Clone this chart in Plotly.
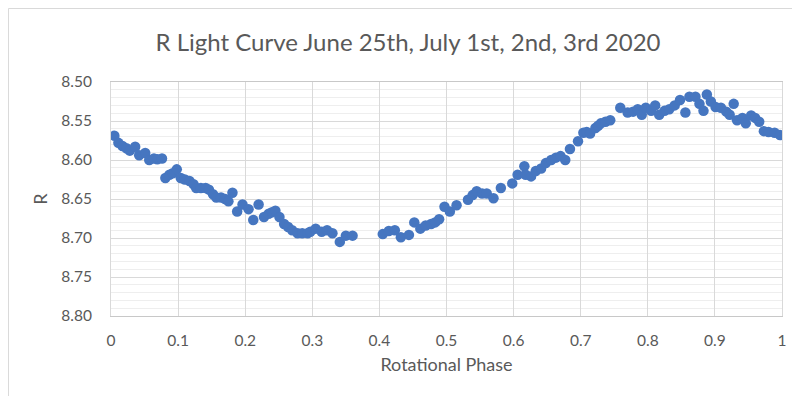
import plotly.graph_objects as go

# Rotational phase and R magnitude
phase = [
    0.005, 0.011, 0.017, 0.023, 0.028, 0.036, 0.042, 0.051, 0.057, 0.064,
    0.069, 0.076, 0.081, 0.087, 0.092, 0.098, 0.104, 0.110, 0.117, 0.123,
    0.127, 0.134, 0.141, 0.146, 0.152, 0.157, 0.164, 0.170, 0.175, 0.181,
    0.188, 0.196, 0.205, 0.212, 0.220, 0.228, 0.235, 0.240, 0.245, 0.251,
    0.258, 0.264, 0.270, 0.278, 0.285, 0.293, 0.297, 0.305, 0.314, 0.322,
    0.330, 0.341, 0.350, 0.360,
    0.405, 0.414, 0.423, 0.432, 0.444, 0.452, 0.461, 0.469, 0.477, 0.483,
    0.489, 0.497, 0.505, 0.515, 0.532, 0.539, 0.545, 0.553, 0.560, 0.570,
    0.581, 0.598, 0.606, 0.616, 0.618, 0.626, 0.633, 0.641, 0.648, 0.656,
    0.663, 0.670, 0.677, 0.684, 0.696, 0.704, 0.709, 0.714, 0.722, 0.726,
    0.730, 0.737, 0.744, 0.759, 0.770, 0.778, 0.785, 0.791, 0.797, 0.805,
    0.811, 0.817, 0.825, 0.832, 0.840, 0.848, 0.856, 0.862, 0.871, 0.877,
    0.883, 0.888, 0.894, 0.901, 0.909, 0.917, 0.922, 0.928, 0.933, 0.941,
    0.946, 0.954, 0.960, 0.966, 0.973, 0.980, 0.989, 0.997,
]
r_mag = [
    8.569, 8.578, 8.582, 8.585, 8.588, 8.583, 8.594, 8.591, 8.600, 8.598,
    8.599, 8.598, 8.623, 8.619, 8.617, 8.612, 8.623, 8.625, 8.627, 8.631,
    8.636, 8.636, 8.636, 8.638, 8.644, 8.648, 8.648, 8.650, 8.653, 8.642,
    8.666, 8.657, 8.663, 8.677, 8.657, 8.673, 8.669, 8.667, 8.665, 8.673,
    8.682, 8.686, 8.690, 8.694, 8.694, 8.694, 8.692, 8.688, 8.692, 8.690,
    8.694, 8.705, 8.697, 8.697,
    8.695, 8.691, 8.690, 8.699, 8.696, 8.680, 8.688, 8.684, 8.682, 8.680,
    8.676, 8.660, 8.666, 8.658, 8.651, 8.645, 8.640, 8.643, 8.643, 8.649,
    8.636, 8.630, 8.619, 8.608, 8.619, 8.621, 8.614, 8.611, 8.604, 8.600,
    8.597, 8.595, 8.600, 8.586, 8.576, 8.565, 8.564, 8.566, 8.559, 8.556,
    8.553, 8.551, 8.549, 8.533, 8.539, 8.538, 8.535, 8.542, 8.533, 8.537,
    8.530, 8.542, 8.537, 8.535, 8.530, 8.523, 8.539, 8.519, 8.519, 8.528,
    8.537, 8.516, 8.525, 8.532, 8.533, 8.538, 8.542, 8.528, 8.549, 8.546,
    8.553, 8.543, 8.546, 8.551, 8.563, 8.564, 8.565, 8.568,
]

title_text = "R Light Curve June 25th, July 1st, 2nd, 3rd 2020"
x_title = "Rotational Phase"
y_title = "R"

FONT = "Lato, Carlito, Calibri, sans-serif"
TXT = "#595959"
GRID = "#D9D9D9"

fig = go.Figure()
fig.add_trace(go.Scatter(
    x=phase, y=r_mag, mode="markers",
    marker=dict(size=10.5, color="#4676C0", line=dict(width=0)),
    showlegend=False,
))

fig.update_layout(
    width=800, height=396,
    margin=dict(l=103, r=26, t=74, b=88),
    paper_bgcolor="white", plot_bgcolor="white",
    font=dict(family=FONT, color=TXT, size=15),
    title=dict(text=title_text, x=0.5, xref="container", xanchor="center",
               y=1 - 35 / 396, yref="container", yanchor="middle",
               font=dict(family=FONT, size=24, color=TXT)),
    shapes=[dict(type="rect", xref="paper", yref="paper",
                 x0=-0.1528, x1=1.038, y0=-0.3739, y1=1.314,
                 line=dict(color=GRID, width=1), layer="below")],
)

fig.update_xaxes(
    range=[0, 1], dtick=0.1, tick0=0,
    showgrid=True, gridcolor=GRID, gridwidth=1,
    zeroline=False, showline=True, linecolor="#C8C8C8", mirror=True,
    ticks="", ticklabelstandoff=10,
    title=dict(text=x_title, font=dict(size=18, color=TXT), standoff=10),
    tickfont=dict(size=15.5, color=TXT),
)
fig.update_yaxes(
    range=[8.80, 8.50], dtick=0.05, tick0=8.5, tickformat=".2f",
    showgrid=True, gridcolor=GRID, gridwidth=1,
    minor=dict(dtick=0.01, showgrid=True, gridcolor="#EEEEEE", gridwidth=1),
    zeroline=False, showline=True, linecolor=GRID, mirror=True,
    ticks="", ticklabelstandoff=15,
    title=dict(text=y_title, font=dict(size=18, color=TXT), standoff=8),
    tickfont=dict(size=15.5, color=TXT),
)

fig.write_html("out.html")
